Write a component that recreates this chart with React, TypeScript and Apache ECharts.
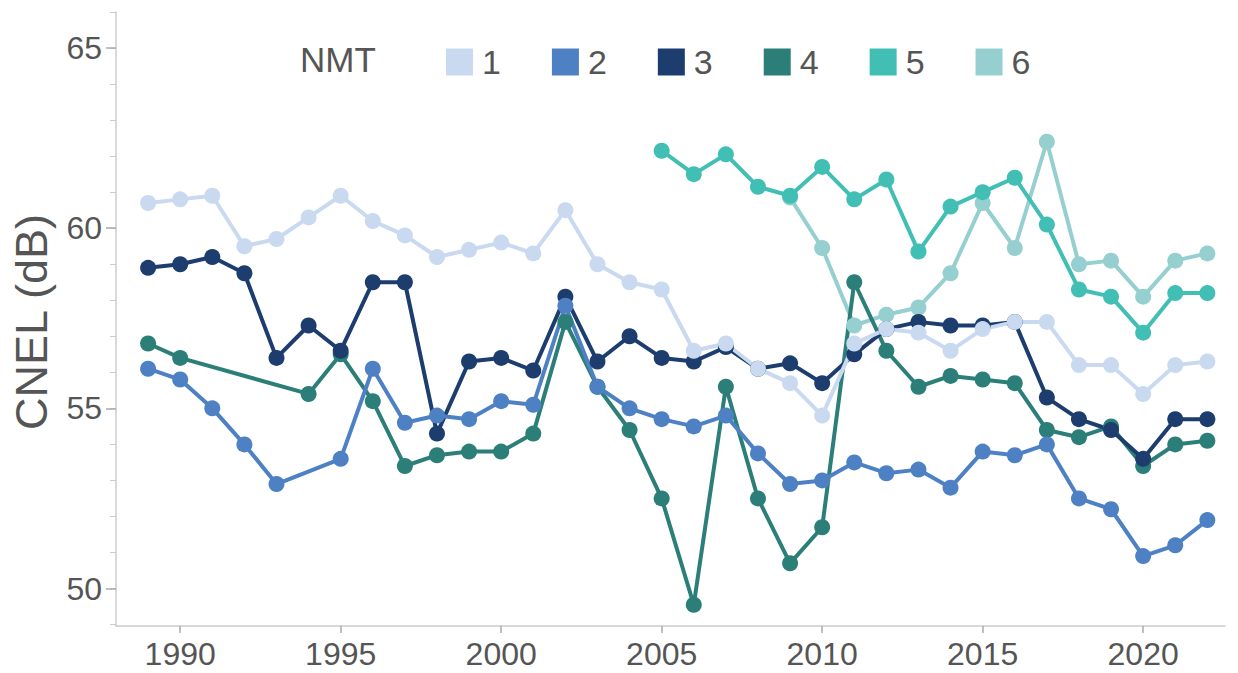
import React, { useEffect, useRef } from "react";
import * as echarts from "echarts";

const seriesNames = ["1", "2", "3", "4", "5", "6"];
const seriesColors = ["#c9daf0", "#4e81c4", "#1c3d6e", "#2b7f78", "#41bfb5", "#96cfcf"];

const years1 = [1989, 1990, 1991, 1992, 1993, 1994, 1995, 1996, 1997, 1998, 1999, 2000, 2001, 2002, 2003, 2004, 2005, 2006, 2007, 2008, 2009, 2010, 2011, 2012, 2013, 2014, 2015, 2016, 2017, 2018, 2019, 2020, 2021, 2022];
const values1 = [60.7, 60.8, 60.9, 59.5, 59.7, 60.3, 60.9, 60.2, 59.8, 59.2, 59.4, 59.6, 59.3, 60.5, 59.0, 58.5, 58.3, 56.6, 56.8, 56.1, 55.7, 54.8, 56.8, 57.2, 57.1, 56.6, 57.2, 57.4, 57.4, 56.2, 56.2, 55.4, 56.2, 56.3];

const years2 = [1989, 1990, 1991, 1992, 1993, 1995, 1996, 1997, 1998, 1999, 2000, 2001, 2002, 2003, 2004, 2005, 2006, 2007, 2008, 2009, 2010, 2011, 2012, 2013, 2014, 2015, 2016, 2017, 2018, 2019, 2020, 2021, 2022];
const values2 = [56.1, 55.8, 55.0, 54.0, 52.9, 53.6, 56.1, 54.6, 54.8, 54.7, 55.2, 55.1, 57.85, 55.6, 55.0, 54.7, 54.5, 54.8, 53.75, 52.9, 53.0, 53.5, 53.2, 53.3, 52.8, 53.8, 53.7, 54.0, 52.5, 52.2, 50.9, 51.2, 51.9];

const years3 = [1989, 1990, 1991, 1992, 1993, 1994, 1995, 1996, 1997, 1998, 1999, 2000, 2001, 2002, 2003, 2004, 2005, 2006, 2007, 2008, 2009, 2010, 2011, 2012, 2013, 2014, 2015, 2016, 2017, 2018, 2019, 2020, 2021, 2022];
const values3 = [58.9, 59.0, 59.2, 58.75, 56.4, 57.3, 56.6, 58.5, 58.5, 54.3, 56.3, 56.4, 56.05, 58.1, 56.3, 57.0, 56.4, 56.3, 56.7, 56.1, 56.25, 55.7, 56.5, 57.2, 57.4, 57.3, 57.3, 57.4, 55.3, 54.7, 54.4, 53.6, 54.7, 54.7];

const years4 = [1989, 1990, 1994, 1995, 1996, 1997, 1998, 1999, 2000, 2001, 2002, 2003, 2004, 2005, 2006, 2007, 2008, 2009, 2010, 2011, 2012, 2013, 2014, 2015, 2016, 2017, 2018, 2019, 2020, 2021, 2022];
const values4 = [56.8, 56.4, 55.4, 56.5, 55.2, 53.4, 53.7, 53.8, 53.8, 54.3, 57.4, 55.6, 54.4, 52.5, 49.55, 55.6, 52.5, 50.7, 51.7, 58.5, 56.6, 55.6, 55.9, 55.8, 55.7, 54.4, 54.2, 54.5, 53.4, 54.0, 54.1];

const years5 = [2005, 2006, 2007, 2008, 2009, 2010, 2011, 2012, 2013, 2014, 2015, 2016, 2017, 2018, 2019, 2020, 2021, 2022];
const values5 = [62.15, 61.5, 62.05, 61.15, 60.9, 61.7, 60.8, 61.35, 59.35, 60.6, 61.0, 61.4, 60.1, 58.3, 58.1, 57.1, 58.2, 58.2];

const years6 = [2009, 2010, 2011, 2012, 2013, 2014, 2015, 2016, 2017, 2018, 2019, 2020, 2021, 2022];
const values6 = [60.85, 59.45, 57.3, 57.6, 57.8, 58.75, 60.7, 59.45, 62.4, 59.0, 59.1, 58.1, 59.1, 59.3];

const xTickYears = [1990, 1995, 2000, 2005, 2010, 2015, 2020];
const yMajorTicks = [50, 55, 60, 65];
const yMinorTicks = [49, 50, 51, 52, 53, 54, 55, 56, 57, 58, 59, 60, 61, 62, 63, 64, 65, 66];

const allYears = [years1, years2, years3, years4, years5, years6];
const allValues = [values1, values2, values3, values4, values5, values6];

const FONT = "Liberation Sans, Arial, sans-serif";
const TEXT = "#555555";
const AXIS = "#cccccc";

export default function App() {
  const ref = useRef<HTMLDivElement>(null);
  useEffect(() => {
    if (!ref.current) return;
    const chart = echarts.init(ref.current, undefined, { renderer: "svg" });
    const series = [5, 4, 3, 2, 1, 0].map((i) => ({
      name: seriesNames[i],
      type: "line",
      data: allYears[i].map((y, k) => [y, allValues[i][k]]),
      color: seriesColors[i],
      lineStyle: { width: 4, color: seriesColors[i] },
      itemStyle: { color: seriesColors[i] },
      symbol: "circle",
      symbolSize: 16,
      showSymbol: true,
      xAxisIndex: 0,
      yAxisIndex: 0,
    }));
    chart.setOption({
      animation: false,
      textStyle: { fontFamily: FONT },
      grid: { left: 116, right: 13, top: 12, bottom: 47, containLabel: false },
      legend: {
        data: seriesNames,
        left: 446,
        top: 45,
        padding: 0,
        itemWidth: 27,
        itemHeight: 27,
        itemGap: 51,
        icon: "rect",
        textStyle: { fontSize: 34, color: TEXT, fontFamily: FONT, padding: [0, 0, 0, 4] },
      },
      xAxis: {
        type: "value",
        min: 1988,
        max: 2022.55,
        axisLine: { show: true, lineStyle: { color: AXIS, width: 1.5 } },
        axisTick: { show: true, customValues: xTickYears, length: 7, lineStyle: { color: "#aaaaaa", width: 1.5 } },
        axisLabel: {
          customValues: xTickYears,
          fontSize: 32,
          color: TEXT,
          margin: 12,
          fontFamily: FONT,
          formatter: (v: number) => String(v),
        },
        splitLine: { show: false },
      },
      yAxis: [
        {
          type: "value",
          position: "left",
          min: 48.96,
          max: 66,
          axisLine: { show: true, lineStyle: { color: AXIS, width: 1.5 } },
          axisTick: { show: true, customValues: yMinorTicks, length: 6, lineStyle: { color: AXIS, width: 1 } },
          axisLabel: { customValues: yMajorTicks, fontSize: 32, color: TEXT, margin: 14, fontFamily: FONT },
          splitLine: { show: false },
        },
        {
          type: "value",
          position: "left",
          offset: 0,
          min: 48.96,
          max: 66,
          axisLine: { show: false },
          axisTick: { show: true, customValues: yMajorTicks, length: 10, lineStyle: { color: "#aaaaaa", width: 1.5 } },
          axisLabel: { show: false },
          splitLine: { show: false },
        },
      ],
      graphic: [
        {
          type: "text",
          x: 31,
          y: 322,
          rotation: Math.PI / 2,
          style: {
            text: "CNEL (dB)",
            fontSize: 45,
            fontFamily: FONT,
            fill: TEXT,
            textAlign: "center",
            textVerticalAlign: "middle",
          },
        },
        {
          type: "text",
          x: 300,
          y: 59,
          style: {
            text: "NMT",
            fontSize: 35,
            fontFamily: FONT,
            fill: TEXT,
            textAlign: "left",
            textVerticalAlign: "middle",
          },
        },
      ],
      series,
    });
    return () => chart.dispose();
  }, []);
  return (
    <div
      ref={ref}
      style={{ position: "absolute", left: 0, top: 0, width: 1238, height: 673, background: "#fff" }}
    />
  );
}
